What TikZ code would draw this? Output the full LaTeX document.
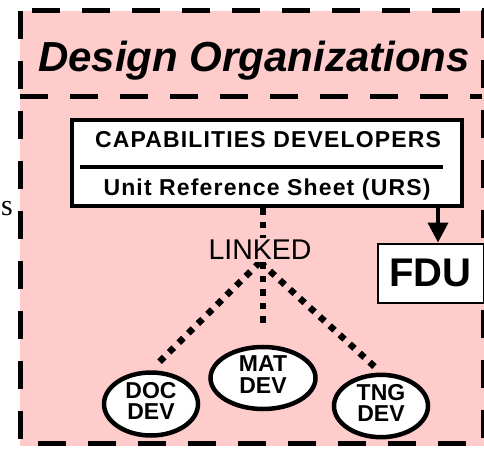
\documentclass[tikz,border=0pt]{standalone}
\usepackage{fontspec}
\setmainfont{Liberation Sans}
\newfontfamily\strayfont{Liberation Serif}
\newfontfamily\spacedfont[LetterSpace=5]{Liberation Sans}
\usetikzlibrary{shapes.geometric,arrows.meta,backgrounds}
\definecolor{orgpink}{RGB}{255,204,204}
\newcommand\devfont{\bfseries\fontsize{23}{22}\selectfont}
\newcommand\devtext[2]{\begin{tabular}{@{}c@{}}#1\\[-1pt]#2\end{tabular}}

\begin{document}
\begin{tikzpicture}[x=1pt,y=-1pt]

      \tikzset{dashline/.style={draw=black, line width=5pt, dash pattern=on 28pt off 22pt},
               capbox/.style={draw, line width=4pt, fill=white, minimum width=390pt, minimum height=86pt},
               devnode/.style={draw, ellipse, line width=4.5pt, fill=white, inner sep=0pt, font=\devfont},
               linkdots/.style={line width=6.5pt, dash pattern=on 6.5pt off 7pt}}
      \useasboundingbox (0,0) rectangle (484,449);
%% Background and frames
      \begin{scope}[on background layer]
        \fill[orgpink] (20,11) rectangle (484,446);
      \end{scope}
      \draw[dashline] (20,11) rectangle (483,443);
      \draw[dashline] (20,97) -- (482,97);
      \node[anchor=base, font=\bfseries\itshape\fontsize{42}{46}\selectfont] (title) at (254,72) {Design Organizations};
      \node[anchor=base, font=\strayfont\fontsize{30}{32}\selectfont] (stray) at (7,215) {s};
%% Nodes
      \node[capbox] (cd) at (267,163) {};
      \node[anchor=base, font=\spacedfont\bfseries\fontsize{23}{25}\selectfont] (cdname) at (268,148) {CAPABILITIES DEVELOPERS};
      \node[anchor=base, font=\spacedfont\bfseries\fontsize{23}{25}\selectfont] (urs) at (267,195) {Unit Reference Sheet (URS)};
      \coordinate (divl) at (80,167);
      \coordinate (divr) at (443,167);
      \draw[line width=4pt] (divl) -- (divr);
      \node[draw, line width=2pt, fill=white, minimum width=106pt, minimum height=59pt, font=\bfseries\fontsize{40}{44}\selectfont] (fdu) at (430.5,273) {FDU};
      \node[devnode, minimum width=105pt, minimum height=60pt] (mat) at (263,378) {\devtext{MAT}{DEV}};
      \node[devnode, minimum width=94pt, minimum height=63pt] (doc) at (151,404) {\devtext{DOC}{DEV}};
      \node[devnode, minimum width=94pt, minimum height=61pt] (tng) at (381,406) {\devtext{TNG}{DEV}};
      \node[font=\fontsize{28.5}{32}\selectfont, fill=orgpink, inner sep=2pt] (linked) at (260,250) {LINKED};
%Edges
      \coordinate (fdutop) at ([xshift=7.5pt]fdu.north);
      \draw[line width=4pt, -{Triangle[width=20pt,length=20pt]}] (fdutop |- cd.south) -- (fdutop);
      \begin{scope}[on background layer]
        \draw[linkdots, shorten >=22pt] (cd.south -| mat.north) -- (mat.north);
        \draw[linkdots, shorten >=8pt] (linked.south) -- (doc.north);
        \draw[linkdots, shorten >=8pt] (linked.south) -- (tng.north);
      \end{scope}

\end{tikzpicture}
\end{document}
